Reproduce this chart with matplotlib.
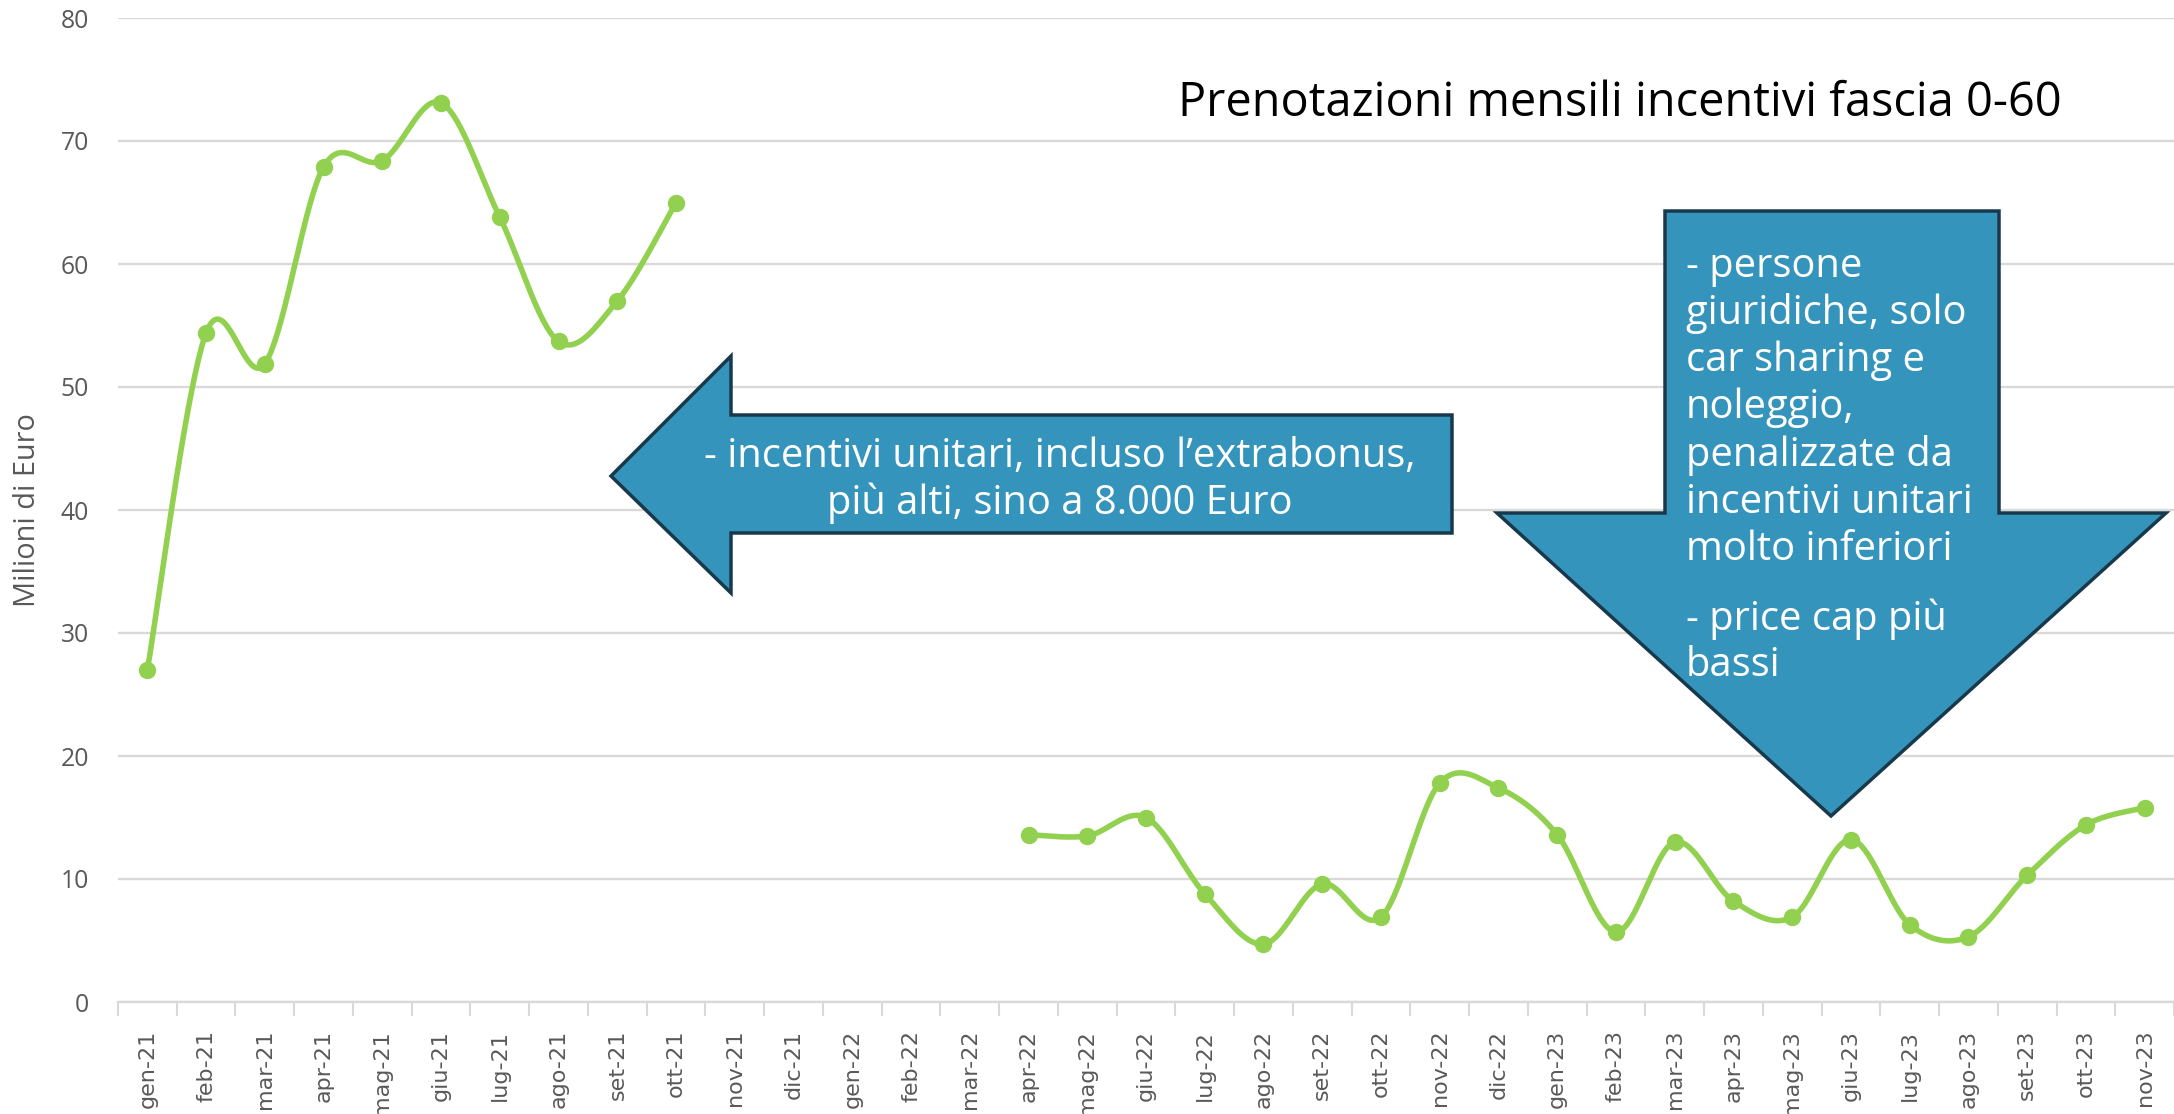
import numpy as np
import matplotlib
matplotlib.use("Agg")
import matplotlib.pyplot as plt
from matplotlib import font_manager as fm
from matplotlib.patches import Polygon

# ---------------- data ----------------
months = ["gen-21", "feb-21", "mar-21", "apr-21", "mag-21", "giu-21", "lug-21", "ago-21",
          "set-21", "ott-21", "nov-21", "dic-21", "gen-22", "feb-22", "mar-22", "apr-22",
          "mag-22", "giu-22", "lug-22", "ago-22", "set-22", "ott-22", "nov-22", "dic-22",
          "gen-23", "feb-23", "mar-23", "apr-23", "mag-23", "giu-23", "lug-23", "ago-23",
          "set-23", "ott-23", "nov-23"]
values = [27.0, 54.4, 51.9, 67.9, 68.4, 73.1, 63.8, 53.7, 57.0, 65.0,
          None, None, None, None, None,
          13.6, 13.5, 15.0, 8.8, 4.7, 9.6, 6.9, 17.8, 17.4,
          13.6, 5.7, 13.0, 8.2, 6.9, 13.2, 6.3, 5.3, 10.3, 14.4, 15.8]
y_ticks = [0, 10, 20, 30, 40, 50, 60, 70, 80]
title = "Prenotazioni mensili incentivi fascia 0-60"
ylabel = "Milioni di Euro"
left_note = ["- incentivi unitari, incluso l\u2019extrabonus,", "più alti, sino a 8.000 Euro"]
down_note = ["- persone", "giuridiche, solo", "car sharing e", "noleggio,", "penalizzate da",
             "incentivi unitari", "molto inferiori", "- price cap più", "bassi"]

# ---------------- fonts ----------------
names = {f.name for f in fm.fontManager.ttflist}
def pick(*cands):
    for c in cands:
        if c in names:
            return c
    return "DejaVu Sans"
F_AX = pick("Open Sans", "Noto Sans", "Lato")
F_NOTE = pick("Open Sans", "Lato", "Noto Sans")
F_X = "DejaVu Sans"

W, H = 2174, 1114
fig = plt.figure(figsize=(W / 100, H / 100), dpi=100)
fig.patch.set_facecolor("white")
ax = fig.add_axes([118 / W, 1 - 1002 / H, (W - 118) / W, (1002 - 18) / H])
renderer = fig.canvas.get_renderer()

GREEN = "#92D050"
GRID = "#D9D9D9"
TXT = "#595959"

def fit(t, target, use_height=False):
    for _ in range(3):
        bb = t.get_window_extent(renderer)
        size = bb.height if use_height else bb.width
        t.set_fontsize(t.get_fontsize() * target / size)

# ---------------- smoothed line (Excel-like Catmull-Rom) ----------------
def smooth(xs, ys, n=40):
    P = np.column_stack([xs, ys]).astype(float)
    out = []
    m = len(P)
    for i in range(m - 1):
        p0 = P[i - 1] if i > 0 else P[i]
        p1, p2 = P[i], P[i + 1]
        p3 = P[i + 2] if i + 2 < m else P[i + 1]
        c1 = p1 + (p2 - p0) / 6.0
        c2 = p2 - (p3 - p1) / 6.0
        t = np.linspace(0, 1, n)[:, None]
        seg = ((1 - t) ** 3) * p1 + 3 * ((1 - t) ** 2) * t * c1 + 3 * (1 - t) * t ** 2 * c2 + t ** 3 * p2
        out.append(seg if i == 0 else seg[1:])
    return np.vstack(out)

x_all = np.arange(len(months))
segments = []
cur = []
for xi, v in zip(x_all, values):
    if v is None:
        if cur:
            segments.append(cur)
        cur = []
    else:
        cur.append((xi, v))
if cur:
    segments.append(cur)

for seg in segments:
    sx = [p[0] for p in seg]
    sy = [p[1] for p in seg]
    curve = smooth(sx, sy)
    ax.plot(curve[:, 0], curve[:, 1], color=GREEN, lw=4.0, solid_capstyle="round", zorder=3)
    ax.plot(sx, sy, "o", color=GREEN, ms=11.5, zorder=4)

# ---------------- y label (fitted to reference length) ----------------
yl = fig.text(28 / W, 1 - 510 / H, ylabel, rotation=90, ha="center", va="center",
              fontsize=21, color=TXT, family=F_AX)
fit(yl, 194, use_height=True)
fs_tick = yl.get_fontsize() * 18.0 / 21.0

# ---------------- axes styling ----------------
ax.set_xlim(-0.5, len(months) - 0.5)
ax.set_ylim(0, 80)
ax.set_yticks(y_ticks)
ax.set_yticklabels([str(t) for t in y_ticks], fontsize=fs_tick, color=TXT, family=F_AX)
ax.tick_params(axis="y", length=0, pad=21)
ax.set_xticks(x_all)
ax.set_xticklabels(months, rotation=90, fontsize=16, color=TXT, family=F_X)
ax.tick_params(axis="x", which="major", length=0, pad=20)
ax.set_xticks(np.arange(-0.5, len(months)), minor=True)
ax.tick_params(axis="x", which="minor", length=10, width=1.5, color=GRID)
ax.yaxis.grid(True, color=GRID, lw=1.7, zorder=0)
ax.set_axisbelow(True)
for s in ["left", "right", "top"]:
    ax.spines[s].set_visible(False)
ax.spines["bottom"].set_color(GRID)
ax.spines["bottom"].set_linewidth(1.7)

# ---------------- annotation shapes (figure pixel coords) ----------------
def P(x, y):
    return (x / W, 1 - y / H)

FILL = "#3594BB"
EDGE = "#17394B"
left_arrow = [P(611, 476), P(731, 356), P(731, 415), P(1452, 415), P(1452, 533),
              P(731, 533), P(731, 593)]
down_arrow = [P(1665, 211), P(1999, 211), P(1999, 513), P(2166, 513), P(1831, 816),
              P(1497, 513), P(1665, 513)]
for poly in (left_arrow, down_arrow):
    fig.add_artist(Polygon(poly, closed=True, facecolor=FILL, edgecolor=EDGE, lw=2.5,
                           transform=fig.transFigure, zorder=5, joinstyle="miter"))

tt = fig.text(*P(1620, 103), title, ha="center", va="center", fontsize=34,
              color="black", family=F_NOTE, zorder=6)
fit(tt, 883)

l1 = fig.text(*P(1060, 457), left_note[0], ha="center", va="center", fontsize=24,
              color="white", family=F_NOTE, zorder=6)
fit(l1, 713)
fs_note = l1.get_fontsize()
fig.text(*P(1060, 503), left_note[1], ha="center", va="center", fontsize=fs_note,
         color="white", family=F_NOTE, zorder=6)

ys_down = [267, 314, 361, 408, 456, 503, 550, 619, 666]
for line, yy in zip(down_note, ys_down):
    fig.text(*P(1686, yy), line, ha="left", va="center", fontsize=fs_note,
             color="white", family=F_NOTE, zorder=6)

fig.savefig("out.png", dpi=100, facecolor="white")
